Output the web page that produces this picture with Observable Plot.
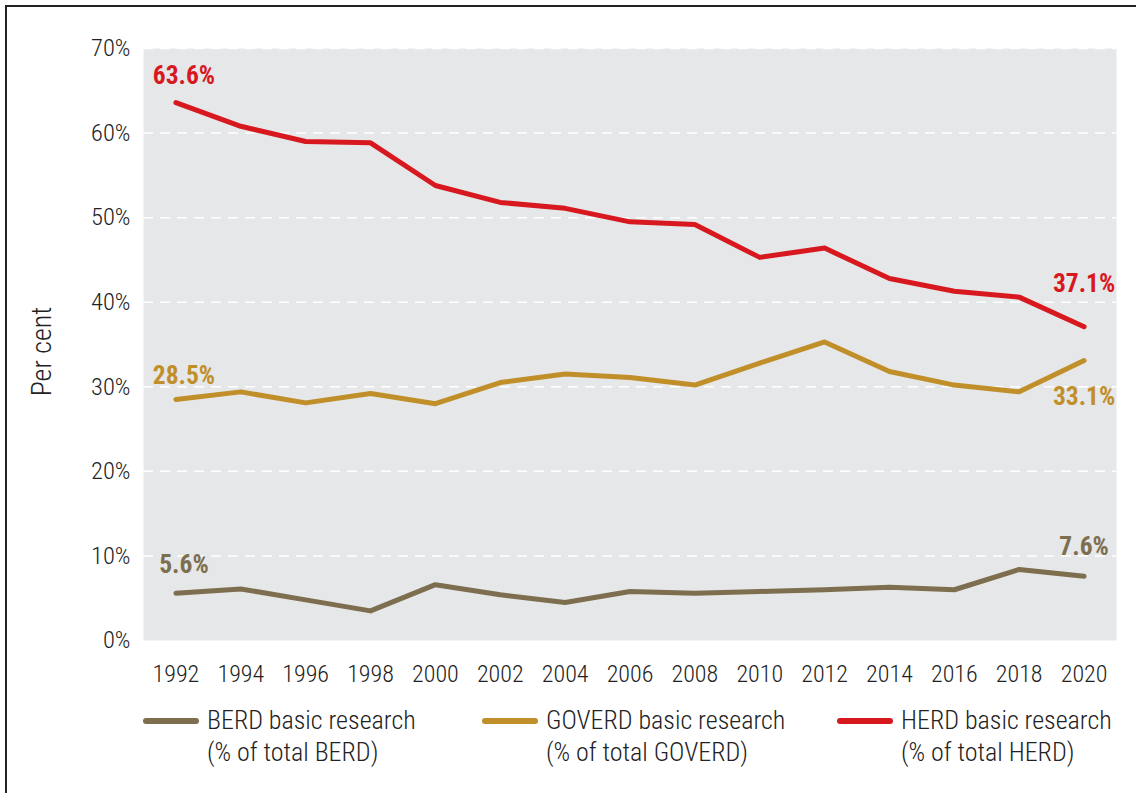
<!DOCTYPE html>
<html>
<head>
<meta charset="utf-8">
<script src="https://cdn.jsdelivr.net/npm/d3@7"></script>
<script src="https://cdn.jsdelivr.net/npm/@observablehq/plot@0.6"></script>
<style>
  html, body { margin: 0; padding: 0; background: #fff; overflow: hidden; width: 1136px; height: 793px; }
  body { position: relative; font-family: "Roboto Condensed", "Liberation Sans Narrow", "Roboto", sans-serif; }
  #frame { position: absolute; left: 5px; top: 5px; width: 1200px; height: 900px; border: 2px solid #222; box-sizing: border-box; }
  #chart { position: absolute; left: 0; top: 0; }
  .leg { position: absolute; top: 704px; font-size: 26px; font-weight: 300; line-height: 32px; color: #222; white-space: nowrap; }
  .sw { position: absolute; top: 718px; width: 56px; height: 6px; border-radius: 3px; }
</style>
</head>
<body>
<div id="frame"></div>
<div id="chart"></div>
<div id="legend"></div>
<script>
const years = [1992,1994,1996,1998,2000,2002,2004,2006,2008,2010,2012,2014,2016,2018,2020];
const berd   = [5.6,6.1,4.8,3.5,6.6,5.4,4.5,5.8,5.6,5.8,6.0,6.3,6.0,8.4,7.6];
const goverd = [28.5,29.4,28.1,29.2,28.0,30.5,31.5,31.1,30.2,32.8,35.3,31.8,30.2,29.4,33.1];
const herd   = [63.6,60.8,59.0,58.85,53.8,51.8,51.1,49.5,49.2,45.3,46.4,42.8,41.3,40.6,37.1];
const seriesNames = ["BERD", "GOVERD", "HERD"];
const seriesColors = ["#7d6e4f", "#c18f2a", "#d7191f"];
const legendLine1 = ["BERD basic research", "GOVERD basic research", "HERD basic research"];
const legendLine2 = ["(% of total BERD)", "(% of total GOVERD)", "(% of total HERD)"];
const yTicks = [0,10,20,30,40,50,60,70];
const gridTicks = [10,20,30,40,50,60,70];

const seriesValues = [berd, goverd, herd];
const rows = [];
seriesNames.forEach((s, k) => years.forEach((yr, i) => rows.push({series: s, year: yr, value: seriesValues[k][i]})));

// endpoint labels
const endLabels = [];
seriesNames.forEach((s, k) => {
  const v = seriesValues[k];
  endLabels.push({series: s, year: years[0], value: v[0], side: "start"});
  endLabels.push({series: s, year: years[years.length-1], value: v[v.length-1], side: "end"});
});
const labelOffsets = {
  "BERD-start": [8, -28], "BERD-end": [0, -29],
  "GOVERD-start": [8, -24], "GOVERD-end": [0, 36],
  "HERD-start": [8, -27], "HERD-end": [0, -43]
};
const colorOf = s => seriesColors[seriesNames.indexOf(s)];
const FONT = '"Roboto Condensed", "Liberation Sans Narrow", "Roboto", sans-serif';

const marks = [
  Plot.frame({fill: "#e6e7e8", stroke: null}),
  Plot.gridY(gridTicks, {stroke: "#ffffff", strokeOpacity: 1, strokeWidth: 1.5, strokeDasharray: "10,7"}),
  Plot.axisY(yTicks, {tickSize: 0, tickPadding: 13, tickFormat: d => d + "%", fontSize: 24.5, fontWeight: 300, fill: "#222", label: null}),
  Plot.axisX(years, {tickSize: 0, tickPadding: 24, tickFormat: d => String(d), fontSize: 24, fontWeight: 300, fill: "#222", label: null}),
  Plot.text(["Per cent"], {frameAnchor: "left", rotate: -90, dx: -101, dy: 7, fontSize: 28, fontWeight: 300, fill: "#222", textAnchor: "middle", lineAnchor: "middle"}),
  Plot.line(rows, {x: "year", y: "value", z: "series", stroke: d => colorOf(d.series), strokeWidth: 5, strokeLinecap: "round", strokeLinejoin: "round"})
];
for (const lab of endLabels) {
  const off = labelOffsets[lab.series + "-" + lab.side];
  marks.push(Plot.text([lab], {x: "year", y: "value", text: d => d.value.toFixed(1) + "%", dx: off[0], dy: off[1], fill: colorOf(lab.series), fontSize: 25.5, fontWeight: 700, textAnchor: "middle", lineAnchor: "middle"}));
}

const plot = Plot.plot({
  width: 1136,
  height: 700,
  marginLeft: 143,
  marginRight: 20,
  marginTop: 48,
  marginBottom: 60,
  style: {fontFamily: FONT, background: "transparent"},
  x: {type: "point", domain: years, padding: 0.5, round: false},
  y: {domain: [0, 70]},
  marks
});
document.getElementById("chart").appendChild(plot);

const legend = document.getElementById("legend");
const legX = [143, 482, 837];
seriesNames.forEach((s, k) => {
  const sw = document.createElement("div");
  sw.className = "sw";
  sw.style.left = legX[k] + "px";
  sw.style.background = seriesColors[k];
  legend.appendChild(sw);
  const t = document.createElement("div");
  t.className = "leg";
  t.style.left = (legX[k] + 64) + "px";
  t.innerHTML = legendLine1[k] + "<br>" + legendLine2[k];
  legend.appendChild(t);
});
</script>
</body>
</html>
